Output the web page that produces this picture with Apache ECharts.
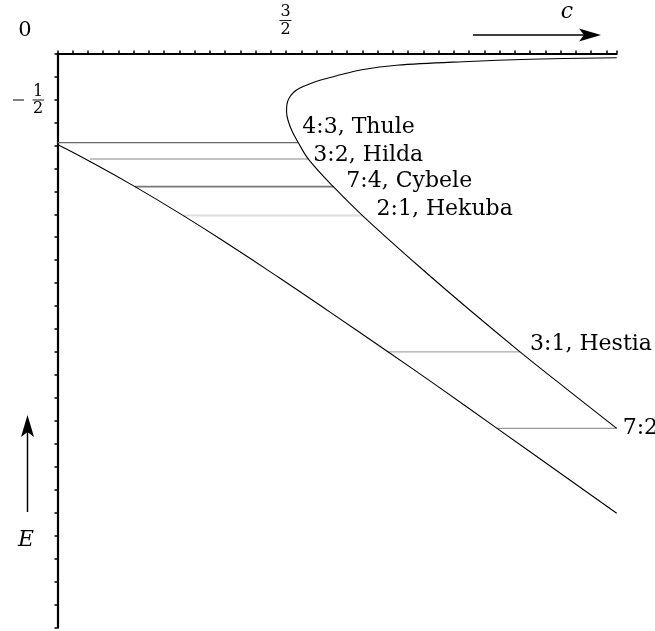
<!DOCTYPE html>
<html><head><meta charset="utf-8">
<script src="https://cdn.jsdelivr.net/npm/echarts/dist/echarts.min.js"></script>
<style>html,body{margin:0;padding:0;background:#fff}#c{width:655px;height:631px}</style>
</head><body><div id="c"></div>
<script>
// x axis: c ; y axis: E
const xTickMin = 0, xTickMax = 3.667, xTickStep = 0.1;
const yTickMin = -6.25, yTickMax = 0, yTickStep = 0.25;

// lower curve
const lowerC = [0, 0.213, 0.508, 0.825, 1.131, 1.459, 1.787, 2.169, 2.508, 2.880, 3.295, 3.667];
const lowerE = [-0.991, -1.175, -1.449, -1.765, -2.088, -2.447, -2.815, -3.249, -3.640, -4.078, -4.566, -5.005];

// C-shaped upper curve
const upperC = [3.667, 3.348, 3.033, 2.705, 2.377, 2.000, 1.809, 1.645, 1.579, 1.538, 1.511, 1.502, 1.505, 1.521, 1.551, 1.590, 1.643, 1.721, 1.820, 2.005, 2.224, 2.661, 3.098, 3.667];
const upperE = [-4.081, -3.664, -3.247, -2.795, -2.327, -1.764, -1.450, -1.149, -0.971, -0.844, -0.724, -0.631, -0.550, -0.479, -0.419, -0.376, -0.338, -0.292, -0.247, -0.174, -0.128, -0.089, -0.063, -0.046];

// resonance levels
const resNames = ['4:3, Thule', '3:2, Hilda', '7:4, Cybele', '2:1, Hekuba', '3:1, Hestia', '7:2'];
const resE  = [-0.971, -1.149, -1.450, -1.764, -3.247, -4.081];
const resC0 = [0, 0.213, 0.508, 0.825, 2.169, 2.880];
const resC1 = [1.579, 1.645, 1.809, 2.000, 3.033, 3.667];

// styles (kept separate from data)
const resLineColor = ['#666', '#888', '#777', '#ddd', '#aaa', '#999'];
const resLineWidth = [1.3, 1.1, 1.7, 2, 1.2, 1.2];
const resLabelOffset = [[4, -15], [5, -4], [13, -5], [14, -6], [10, -8], [6, 0]];

const FONT = 'DejaVu Serif';
const zip = (a, b) => a.map((v, i) => [v, b[i]]);

const series = [
  { type: 'line', data: zip(lowerC, lowerE), symbol: 'none', smooth: 0.5,
    lineStyle: { color: '#000', width: 1.1 }, z: 5 },
  { type: 'line', data: zip(upperC, upperE), symbol: 'none', smooth: 0.35,
    lineStyle: { color: '#000', width: 1.1 }, z: 5 }
];
resNames.forEach((name, i) => {
  series.push({
    type: 'line', symbol: 'none', z: 3,
    lineStyle: { color: resLineColor[i], width: resLineWidth[i] },
    endLabel: { show: true, formatter: name, distance: 0,
      offset: resLabelOffset[i], fontFamily: FONT, fontSize: 22, color: '#000' },
    data: [[resC0[i], resE[i]], [resC1[i], resE[i]]]
  });
});

const chart = echarts.init(document.getElementById('c'), null, { renderer: 'canvas' });
chart.setOption({
  animation: false,
  backgroundColor: '#fff',
  grid: { left: 57.5, top: 53.5, width: 559.2, height: 574.2, containLabel: false },
  xAxis: { type: 'value', position: 'top', min: xTickMin, max: xTickMax, interval: xTickStep,
    axisLine: { show: true, onZero: false, lineStyle: { color: '#000', width: 2.2 } },
    axisTick: { show: true, inside: false, length: 3, lineStyle: { color: '#000', width: 1.5 } },
    axisLabel: { show: false }, splitLine: { show: false } },
  yAxis: { type: 'value', min: yTickMin, max: yTickMax, interval: yTickStep,
    axisLine: { show: true, onZero: false, lineStyle: { color: '#000', width: 2.2 } },
    axisTick: { show: true, inside: false, length: 3, lineStyle: { color: '#000', width: 1.5 } },
    axisLabel: { show: false }, splitLine: { show: false } },
  series: series,
  graphic: [
    { type: 'text', x: 25, y: 31, style: { text: '0', font: '21px "' + FONT + '"', fill: '#000', align: 'center', verticalAlign: 'middle' } },
    // 3/2
    { type: 'text', x: 285.5, y: 12, style: { text: '3', font: '16px "' + FONT + '"', fill: '#000', align: 'center', verticalAlign: 'middle' } },
    { type: 'line', shape: { x1: 279.5, y1: 20.5, x2: 291.5, y2: 20.5 }, style: { stroke: '#000', lineWidth: 0.9 } },
    { type: 'text', x: 285.5, y: 29.5, style: { text: '2', font: '16px "' + FONT + '"', fill: '#000', align: 'center', verticalAlign: 'middle' } },
    // -1/2
    { type: 'line', shape: { x1: 13, y1: 100, x2: 24, y2: 100 }, style: { stroke: '#000', lineWidth: 1 } },
    { type: 'text', x: 38, y: 91.5, style: { text: '1', font: '16px "' + FONT + '"', fill: '#000', align: 'center', verticalAlign: 'middle' } },
    { type: 'line', shape: { x1: 32.5, y1: 100, x2: 44, y2: 100 }, style: { stroke: '#000', lineWidth: 0.9 } },
    { type: 'text', x: 38, y: 109, style: { text: '2', font: '16px "' + FONT + '"', fill: '#000', align: 'center', verticalAlign: 'middle' } },
    // c with arrow
    { type: 'text', x: 567, y: 12, style: { text: 'c', font: 'italic 22px "' + FONT + '"', fill: '#000', align: 'center', verticalAlign: 'middle' } },
    { type: 'line', shape: { x1: 473, y1: 35, x2: 588, y2: 35 }, style: { stroke: '#000', lineWidth: 1.5 } },
    { type: 'polygon', shape: { points: [[601, 35], [579, 28.5], [584, 35], [579, 41.5]] }, style: { fill: '#000' } },
    // E with arrow
    { type: 'line', shape: { x1: 27.5, y1: 512, x2: 27.5, y2: 428 }, style: { stroke: '#000', lineWidth: 1.5 } },
    { type: 'polygon', shape: { points: [[27.5, 415], [21, 437], [27.5, 432], [34, 437]] }, style: { fill: '#000' } },
    { type: 'text', x: 26, y: 540, style: { text: 'E', font: 'italic 22px "' + FONT + '"', fill: '#000', align: 'center', verticalAlign: 'middle' } }
  ]
});
</script>
</body></html>
